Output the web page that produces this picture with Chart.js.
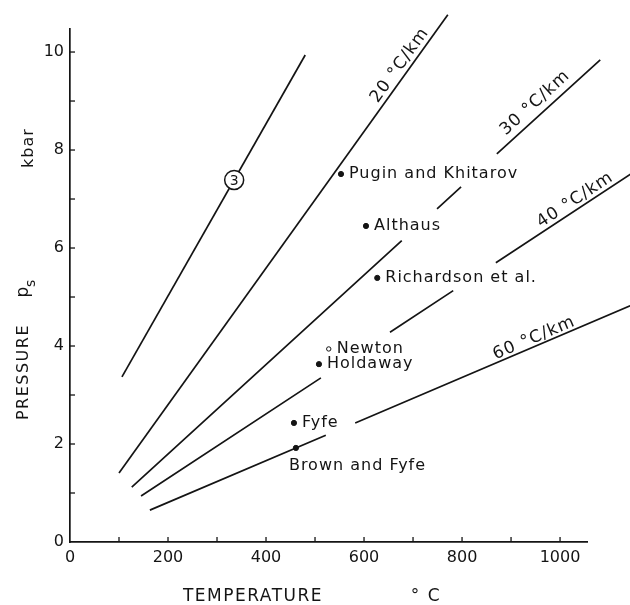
<!DOCTYPE html>
<html>
<head>
<meta charset="utf-8">
<script src="https://cdn.jsdelivr.net/npm/chart.js@4.4.0/dist/chart.umd.min.js"></script>
<style>
  html, body { margin: 0; padding: 0; background: #fff; }
  #chart { display: block; }
</style>
</head>
<body>
<canvas id="chart" width="630" height="605"></canvas>
<script>
// geotherms as [temperature °C, pressure kbar]; null = break in the line where a label sits
const curve3 = [[106, 3.37], [480, 9.94]];
const geo20 = [[100, 1.41], [771, 10.76]];
const geo30 = [[126, 1.12], [677, 6.15], null, [749, 6.80], [798, 7.25], null, [871, 7.92], [1082, 9.84]];
const geo40 = [[145, 0.94], [512, 3.35], null, [653, 4.28], [782, 5.13], null, [869, 5.70], [1147, 7.53]];
const geo60 = [[163, 0.65], [522, 2.18], null, [582, 2.43], [1143, 4.82]];

const geoNames = ["20 °C/km", "30 °C/km", "40 °C/km", "60 °C/km"];
const geoLabelT = [673, 949, 1031, 947];
const geoLabelP = [9.73, 8.96, 6.98, 4.16];

// experimental determinations
const sampleNames = ["Pugin and Khitarov", "Althaus", "Richardson et al.", "Newton", "Holdaway", "Fyfe", "Brown and Fyfe"];
const sampleT = [553, 604, 627, 528, 508, 457, 461];
const sampleP = [7.51, 6.45, 5.39, 3.94, 3.63, 2.43, 1.92];

const curveTag = "3";
const curveTagT = 335, curveTagP = 7.39;

const xTicks = [0, 200, 400, 600, 800, 1000];
const yTicks = [0, 2, 4, 6, 8, 10];

const ink = "#141414";
const font = '"DejaVu Sans", "Liberation Sans", sans-serif';

function toPoints(arr) {
  const out = [];
  arr.forEach((p, i) => {
    if (p === null) out.push({ x: arr[i - 1][0], y: null });
    else out.push({ x: p[0], y: p[1] });
  });
  return out;
}

function lineSet(arr) {
  return {
    type: "line",
    data: toPoints(arr),
    borderColor: ink,
    borderWidth: 1.7,
    pointRadius: 0,
    spanGaps: false,
    clip: false,
    tension: 0
  };
}

const geoLines = [geo20, geo30, geo40, geo60];

const annotate = {
  id: "annotate",
  afterDatasetsDraw(chart) {
    const { ctx, scales: { x, y } } = chart;
    ctx.save();
    ctx.fillStyle = ink;
    ctx.strokeStyle = ink;

    // inward tick marks
    ctx.lineWidth = 1.3;
    x.ticks.forEach((t) => {
      if (t.value === 0) return;
      const px = x.getPixelForValue(t.value);
      ctx.beginPath();
      ctx.moveTo(px, y.bottom);
      ctx.lineTo(px, y.bottom - 5);
      ctx.stroke();
    });
    y.ticks.forEach((t) => {
      if (t.value === 0) return;
      const py = y.getPixelForValue(t.value);
      ctx.beginPath();
      ctx.moveTo(x.left, py);
      ctx.lineTo(x.left + 5, py);
      ctx.stroke();
    });

    // geotherm labels, rotated along their lines
    ctx.font = "17px " + font;
    ctx.letterSpacing = "1px";
    ctx.textAlign = "center";
    ctx.textBaseline = "middle";
    geoNames.forEach((txt, i) => {
      const line = geoLines[i];
      const a = line[0], b = line[line.length - 1];
      const ang = Math.atan2(
        y.getPixelForValue(b[1]) - y.getPixelForValue(a[1]),
        x.getPixelForValue(b[0]) - x.getPixelForValue(a[0])
      );
      ctx.save();
      ctx.translate(x.getPixelForValue(geoLabelT[i]), y.getPixelForValue(geoLabelP[i]));
      ctx.rotate(ang);
      ctx.fillText(txt, 0, 0);
      ctx.restore();
    });

    // sample labels
    ctx.font = "16px " + font;
    ctx.textAlign = "left";
    sampleNames.forEach((txt, i) => {
      const px = x.getPixelForValue(sampleT[i]);
      const py = y.getPixelForValue(sampleP[i]);
      if (txt === "Brown and Fyfe") ctx.fillText(txt, px - 7, py + 18);
      else ctx.fillText(txt, px + 8, py);
    });

    // circled curve number
    const cx = x.getPixelForValue(curveTagT), cy = y.getPixelForValue(curveTagP);
    ctx.beginPath();
    ctx.arc(cx, cy, 9.5, 0, Math.PI * 2);
    ctx.fillStyle = "#fff";
    ctx.fill();
    ctx.lineWidth = 1.5;
    ctx.stroke();
    ctx.fillStyle = ink;
    ctx.font = "14px " + font;
    ctx.letterSpacing = "0px";
    ctx.textAlign = "center";
    ctx.fillText(curveTag, cx, cy + 1);

    // axis titles
    ctx.font = "17px " + font;
    ctx.letterSpacing = "1.5px";
    ctx.textBaseline = "alphabetic";
    ctx.fillText("TEMPERATURE", 253, 601);
    ctx.fillText("° C", 426, 601);

    ctx.save();
    ctx.translate(28, 372);
    ctx.rotate(-Math.PI / 2);
    ctx.font = "16px " + font;
    ctx.fillText("PRESSURE", 0, 0);
    ctx.restore();

    ctx.save();
    ctx.translate(28, 292);
    ctx.rotate(-Math.PI / 2);
    ctx.font = "17px " + font;
    ctx.letterSpacing = "0px";
    ctx.fillText("p", 0, 0);
    ctx.font = "14px " + font;
    ctx.textAlign = "left";
    ctx.fillText("s", 5, 7);
    ctx.restore();

    ctx.save();
    ctx.translate(33, 148);
    ctx.rotate(-Math.PI / 2);
    ctx.font = "16px " + font;
    ctx.letterSpacing = "1px";
    ctx.fillText("kbar", 0, 0);
    ctx.restore();

    ctx.restore();
  }
};

new Chart(document.getElementById("chart"), {
  type: "line",
  data: {
    datasets: [
      lineSet(curve3),
      lineSet(geo20),
      lineSet(geo30),
      lineSet(geo40),
      lineSet(geo60),
      {
        type: "scatter",
        data: sampleT.map((t, i) => ({ x: t, y: sampleP[i] })),
        showLine: false,
        pointRadius: sampleNames.map((n) => (n === "Newton" ? 2.2 : 2.6)),
        pointBackgroundColor: sampleNames.map((n) => (n === "Newton" ? "#fff" : ink)),
        pointBorderColor: ink,
        pointBorderWidth: 1
      }
    ]
  },
  options: {
    responsive: false,
    animation: false,
    layout: { padding: { top: 29, right: 43, left: 0, bottom: 0 } },
    plugins: { legend: { display: false }, tooltip: { enabled: false } },
    scales: {
      x: {
        type: "linear",
        min: 0,
        max: 1055,
        afterFit: (s) => { s.height = 63; },
        border: { display: true, color: ink, width: 1.7 },
        grid: { drawOnChartArea: false, drawTicks: false },
        ticks: {
          stepSize: 100,
          includeBounds: false,
          padding: 6,
          color: ink,
          font: { family: font, size: 16 },
          maxRotation: 0,
          autoSkip: false,
          callback: (v) => (xTicks.includes(v) ? v : "")
        }
      },
      y: {
        type: "linear",
        min: 0,
        max: 10.47,
        afterFit: (s) => { s.width = 70; },
        border: { display: true, color: ink, width: 1.7 },
        grid: { drawOnChartArea: false, drawTicks: false },
        ticks: {
          stepSize: 1,
          includeBounds: false,
          padding: 6,
          color: ink,
          font: { family: font, size: 16 },
          autoSkip: false,
          callback: (v) => (yTicks.includes(v) ? v : "")
        }
      }
    }
  },
  plugins: [annotate]
});
</script>
</body>
</html>
